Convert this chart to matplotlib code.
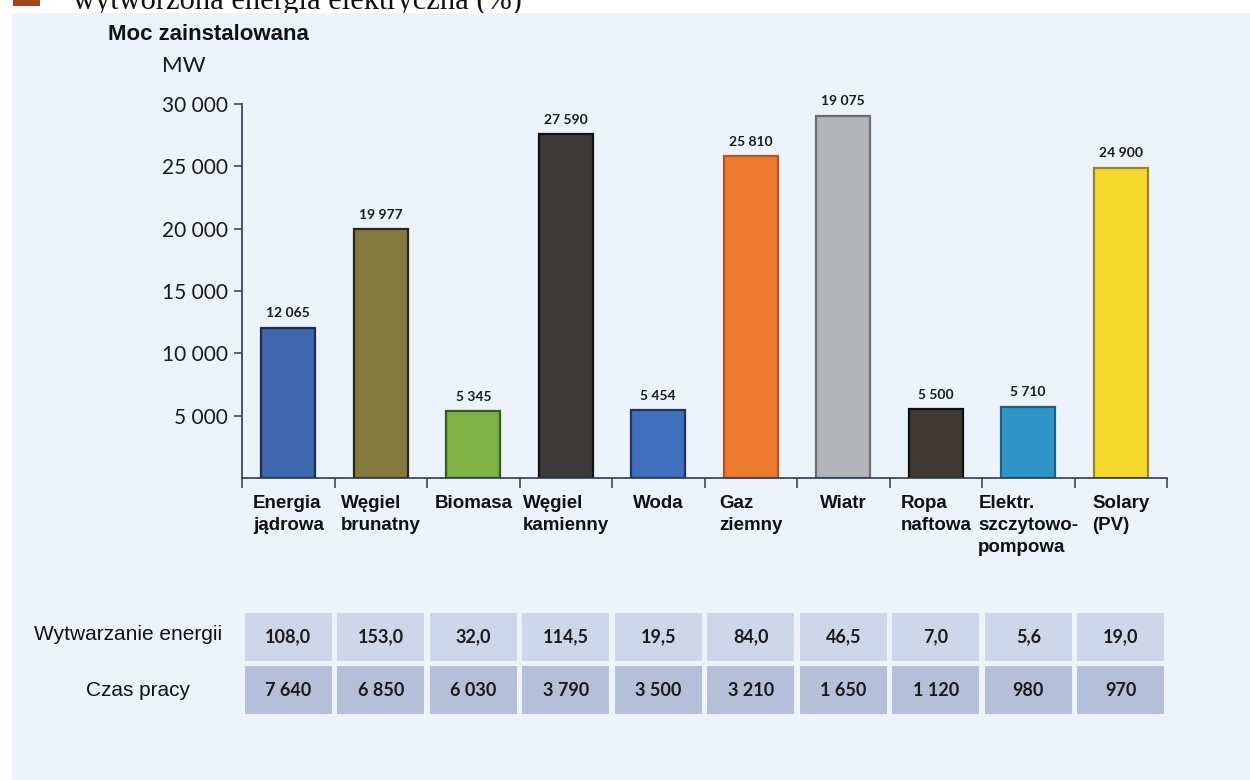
import matplotlib
matplotlib.use("Agg")
import matplotlib.pyplot as plt
from matplotlib.patches import Rectangle
from matplotlib.ticker import FuncFormatter


# Installed capacity per source (MW)
categories = ["Energia\njądrowa", "Węgiel\nbrunatny", "Biomasa", "Węgiel\nkamienny", "Woda",
              "Gaz\nziemny", "Wiatr", "Ropa\nnaftowa", "Elektr.\nszczytowo-\npompowa", "Solary\n(PV)"]
installed_mw = [12065, 19977, 5345, 27590, 5454, 25810, 29075, 5500, 5710, 24900]
# labels as printed above the bars (the wind label reads 19 075 in the source)
printed_labels = ["12 065", "19 977", "5 345", "27 590", "5 454", "25 810", "19 075", "5 500", "5 710", "24 900"]

# Table rows below the chart
energy_output = [108.0, 153.0, 32.0, 114.5, 19.5, 84.0, 46.5, 7.0, 5.6, 19.0]
operating_hours = [7640, 6850, 6030, 3790, 3500, 3210, 1650, 1120, 980, 970]
row_labels = ["Wytwarzanie energii", "Czas pracy"]

y_ticks = [5000, 10000, 15000, 20000, 25000, 30000]

bar_colors = ["#3f67ae", "#857a3e", "#7fb244", "#3b3a39", "#3f6fbd",
              "#ec7b2f", "#b4b5b9", "#3f3a33", "#2e95c6", "#f3da2c"]
edge_colors = ["#1c2d52", "#2b2716", "#3c5a1e", "#111111", "#1d3360",
               "#b8561a", "#6c6d71", "#111111", "#1b6288", "#9c8529"]

BG = "#edf3fb"
W, H = 1250, 780


def fmt_space(v):
    return f"{v:,.0f}".replace(",", " ")


def fmt_decimal(v):
    return f"{v:.1f}".replace(".", ",")


fig = plt.figure(figsize=(W / 100, H / 100), dpi=100)
fig.patch.set_facecolor("white")

# caption at the very top, cut by the page edge as in the scan
fig.text(73 / W, 1 - 9 / H, "wytworzona energia elektryczna (%)", family="Liberation Serif",
         fontsize=22, va="baseline", ha="left", color="#111111", zorder=1)
fig.patches.append(Rectangle((13 / W, 1 - 6 / H), 27 / W, 20 / H, transform=fig.transFigure,
                             facecolor="#a3461f", edgecolor="none", zorder=1))
# page background
fig.patches.append(Rectangle((12 / W, 0), 1, 1 - 13 / H, transform=fig.transFigure,
                             facecolor=BG, edgecolor="none", zorder=2))

ax = fig.add_axes([242 / W, 1 - 478 / H, 925 / W, 374 / H])
ax.set_facecolor("none")
ax.set_zorder(3)

x = list(range(len(categories)))
ax.bar(x, installed_mw, width=0.58, color=bar_colors, edgecolor=edge_colors, linewidth=1.6)

for i, v in enumerate(installed_mw):
    ax.annotate(printed_labels[i], (i, v), xytext=(0, 6), textcoords="offset points",
                ha="center", va="bottom", fontsize=10, fontweight="bold",
                family="Lato", color="#1a1a1a")

ax.set_xlim(-0.5, 9.5)
ax.set_ylim(0, 30000)
ax.set_yticks(y_ticks)
ax.yaxis.set_major_formatter(FuncFormatter(lambda v, p: fmt_space(v)))

ax.set_xticks(x)
ax.set_xticklabels(categories, fontsize=13.5, fontweight="bold",
                   family="Liberation Sans", color="#111111", linespacing=1.4)
for lbl in ax.get_xticklabels():
    lbl.set_multialignment("left")
ax.set_xticks([i - 0.5 for i in range(len(categories) + 1)], minor=True)
ax.tick_params(axis="x", which="major", length=0, pad=12)
ax.tick_params(axis="x", which="minor", length=7, width=1.1, color="#2b3a55", direction="out")

ax.tick_params(axis="y", length=6, width=1.1, color="#2b3a55", pad=4, labelsize=15, labelcolor="#1a1a1a")
for lbl in ax.get_yticklabels():
    lbl.set_family("Lato")

for side in ["top", "right"]:
    ax.spines[side].set_visible(False)
for side in ["left", "bottom"]:
    ax.spines[side].set_color("#2b3a55")
    ax.spines[side].set_linewidth(1.2)

fig.text(108 / W, 1 - 35 / H, "Moc zainstalowana", family="Liberation Sans", fontsize=16,
         fontweight="bold", va="center", ha="left", color="#111111", zorder=4)
fig.text(184 / W, 1 - 66 / H, "MW", family="Lato", fontsize=16, va="center", ha="center",
         color="#1a1a1a", zorder=4)

# data table under the chart
tab = fig.add_axes([242 / W, 1 - 716 / H, 925 / W, 104 / H])
tab.set_zorder(3)
tab.set_xlim(-0.5, 9.5)
tab.set_ylim(0, 2)
tab.axis("off")

rows = [(1.06, "#cdd7ea", [fmt_decimal(v) for v in energy_output]),
        (0.04, "#b4c0d8", [fmt_space(v) for v in operating_hours])]
for bottom, color, texts in rows:
    tab.bar(x, 0.92, width=0.94, bottom=bottom, color=color, edgecolor="none")
    for i, t in enumerate(texts):
        tab.text(i, bottom + 0.46, t, ha="center", va="center", fontsize=13,
                 fontweight="bold", family="Lato", color="#1a1a1a")

fig.text(128 / W, 1 - 635 / H, row_labels[0], family="Liberation Sans", fontsize=15,
         ha="center", va="center", color="#111111", zorder=4)
fig.text(138 / W, 1 - 690 / H, row_labels[1], family="Liberation Sans", fontsize=15,
         ha="center", va="center", color="#111111", zorder=4)

fig.savefig("out.png", dpi=100, facecolor=fig.get_facecolor())
